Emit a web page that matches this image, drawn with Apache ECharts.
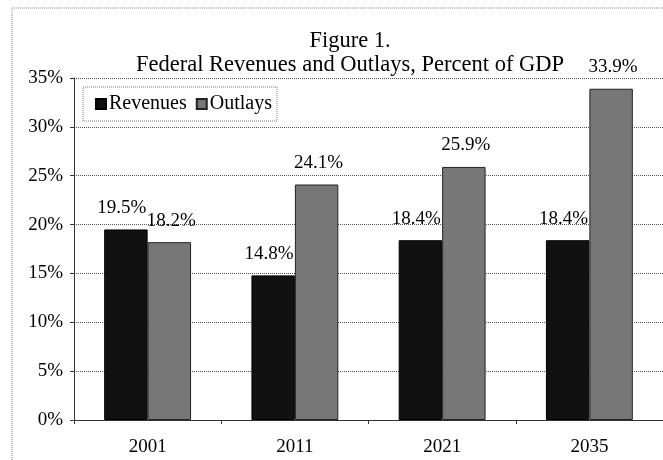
<!DOCTYPE html>
<html><head><meta charset="utf-8">
<script src="https://cdn.jsdelivr.net/npm/echarts@6/dist/echarts.min.js"></script>
<style>html,body{margin:0;padding:0;background:#fff}#c{width:663px;height:460px}</style>
</head><body><div id="c"></div>
<script>
const categories = ['2001', '2011', '2021', '2035'];
const revenues = [19.5, 14.8, 18.4, 18.4];
const outlays = [18.2, 24.1, 25.9, 33.9];
const yTicks = [0, 5, 10, 15, 20, 25, 30, 35];

const F = '"Liberation Serif", "Times New Roman", serif';
const chart = echarts.init(document.getElementById('c'));
chart.setOption({
  animation: false,
  backgroundColor: '#fff',
  graphic: [{
    type: 'rect', shape: {x: 12, y: 8, width: 700, height: 500},
    style: {fill: 'none', stroke: '#888', lineWidth: 1, lineDash: [1, 1]}, z: -1
  }],
  title: {
    text: 'Figure 1.\nFederal Revenues and Outlays, Percent of GDP',
    left: 345, top: 24, textAlign: 'center',
    textStyle: {fontFamily: F, fontSize: 22.5, fontWeight: 'normal', color: '#000', lineHeight: 24}
  },
  legend: {
    left: 83, top: 87, padding: [7, 5, 7, 12],
    borderColor: '#777', borderWidth: 1, borderType: 'dotted',
    itemWidth: 10, itemHeight: 10, itemGap: 9, icon: 'rect',
    textStyle: {fontFamily: F, fontSize: 20, color: '#000', padding: [0, 0, 0, -2]},
    data: ['Revenues', 'Outlays']
  },
  grid: {left: 74, top: 78, width: 593, height: 342, containLabel: false},
  xAxis: {
    type: 'category', data: categories,
    axisLine: {lineStyle: {color: '#333', width: 1}},
    axisTick: {show: true, length: 4, lineStyle: {color: '#333'}},
    axisLabel: {fontFamily: F, fontSize: 19, color: '#000', margin: 18}
  },
  yAxis: {
    type: 'value', min: 0, max: 35, interval: 5,
    axisLine: {show: true, lineStyle: {color: '#333', width: 1}},
    axisTick: {show: true, length: 4, lineStyle: {color: '#333'}},
    axisLabel: {fontFamily: F, fontSize: 19, color: '#000', margin: 11,
      formatter: v => yTicks.includes(v) ? v + '%' : ''},
    splitLine: {show: true, lineStyle: {color: '#555', width: 1, type: [1, 1]}}
  },
  series: [
    {
      name: 'Revenues', type: 'bar', data: revenues,
      barGap: '0%', barCategoryGap: '41%',
      itemStyle: {color: '#111', borderColor: '#000', borderWidth: 1},
      label: {show: true, position: 'top', distance: 12, formatter: p => p.value.toFixed(1) + '%',
        fontFamily: F, fontSize: 19, color: '#000', offset: [-4, 0]}
    },
    {
      name: 'Outlays', type: 'bar', data: outlays,
      itemStyle: {color: '#777', borderColor: '#222', borderWidth: 1},
      label: {show: true, position: 'top', distance: 12, formatter: p => p.value.toFixed(1) + '%',
        fontFamily: F, fontSize: 19, color: '#000', offset: [2, 0]}
    }
  ]
});
</script></body></html>
